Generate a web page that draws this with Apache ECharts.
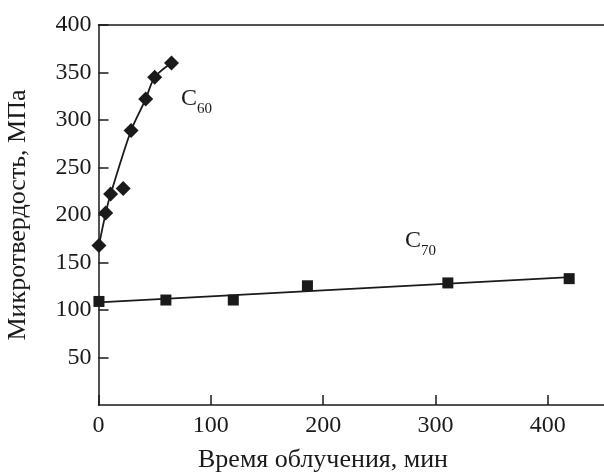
<!DOCTYPE html>
<html>
<head>
<meta charset="utf-8">
<script src="https://cdn.jsdelivr.net/npm/echarts@6/dist/echarts.min.js"></script>
<style>
  html, body { margin: 0; padding: 0; background: #fff; }
  #chart { width: 604px; height: 473px; }
</style>
</head>
<body>
<div id="chart"></div>
<script>
// C60: measured points and fitted curve (the point at 22 min is off the curve)
const c60Points = [[0.4, 168], [6.4, 202], [10.8, 222], [22, 228], [29, 289], [42, 322], [50, 345], [65, 360]];
const c60Curve = [[0.4, 168], [6.4, 202], [10.8, 222], [29, 289], [42, 322], [50, 345], [65, 360]];
// C70: measured points and linear fit
const c70Points = [[0.4, 109], [60, 110.5], [120, 110.5], [186, 125.5], [311, 128.5], [419, 133]];
const c70Fit = [[0, 108], [420, 134.5]];

const xTicks = { min: 0, max: 450, interval: 100 };
const yTicks = { min: 0, max: 400, interval: 50 };

const ink = "#1a1a1a";
const serif = "'Liberation Serif', 'DejaVu Serif', serif";

const chart = echarts.init(document.getElementById("chart"));

const subLabel = (txt) => ({
  text: "{b|C}{s|" + txt + "}",
  rich: {
    b: { font: "24px " + serif, fill: ink, verticalAlign: "bottom" },
    s: { font: "15px " + serif, fill: ink, verticalAlign: "bottom", padding: [0, 0, -6, 0] },
  },
});

chart.setOption({
  animation: false,
  grid: { left: 98.5, right: 0, top: 25, bottom: 68, outerBoundsMode: "none", containLabel: false },
  xAxis: [
    {
      type: "value",
      min: xTicks.min,
      max: xTicks.max,
      interval: xTicks.interval,
      axisLine: { lineStyle: { color: ink, width: 1.5 } },
      axisTick: { inside: true, length: 10, lineStyle: { color: ink, width: 1.5 } },
      axisLabel: { color: ink, fontFamily: serif, fontSize: 24, margin: 9, showMaxLabel: false },
      splitLine: { show: false },
    },
    {
      type: "value",
      position: "top",
      min: xTicks.min,
      max: xTicks.max,
      axisLine: { show: true, lineStyle: { color: ink, width: 1.5 } },
      axisTick: { show: false },
      axisLabel: { show: false },
      splitLine: { show: false },
    },
  ],
  yAxis: {
    type: "value",
    min: yTicks.min,
    max: yTicks.max,
    interval: yTicks.interval,
    name: "Микротвердость, МПа",
    nameLocation: "middle",
    nameGap: 67,
    nameTextStyle: { color: ink, fontFamily: serif, fontSize: 26 },
    axisLine: { show: true, lineStyle: { color: ink, width: 1.5 } },
    axisTick: { inside: true, length: 10, lineStyle: { color: ink, width: 1.5 } },
    axisLabel: { color: ink, fontFamily: serif, fontSize: 24, margin: 7, showMinLabel: false },
    splitLine: { show: false },
  },
  graphic: [
    {
      type: "text",
      left: 198,
      top: 447,
      style: { text: "Время облучения, мин", font: "26px " + serif, fill: ink },
    },
    { type: "text", left: 181, top: 87, style: subLabel("60") },
    { type: "text", left: 405, top: 229, style: subLabel("70") },
  ],
  series: [
    {
      type: "line",
      data: c60Curve,
      smooth: 0.3,
      showSymbol: false,
      lineStyle: { color: ink, width: 1.8 },
      z: 2,
    },
    {
      type: "scatter",
      data: c60Points,
      symbol: "diamond",
      symbolSize: [15, 15],
      itemStyle: { color: ink, opacity: 1 },
      z: 3,
    },
    {
      type: "line",
      data: c70Fit,
      showSymbol: false,
      lineStyle: { color: ink, width: 1.8 },
      z: 2,
    },
    {
      type: "scatter",
      data: c70Points,
      symbol: "rect",
      symbolSize: 11,
      itemStyle: { color: ink, opacity: 1 },
      z: 3,
    },
  ],
});
</script>
</body>
</html>
